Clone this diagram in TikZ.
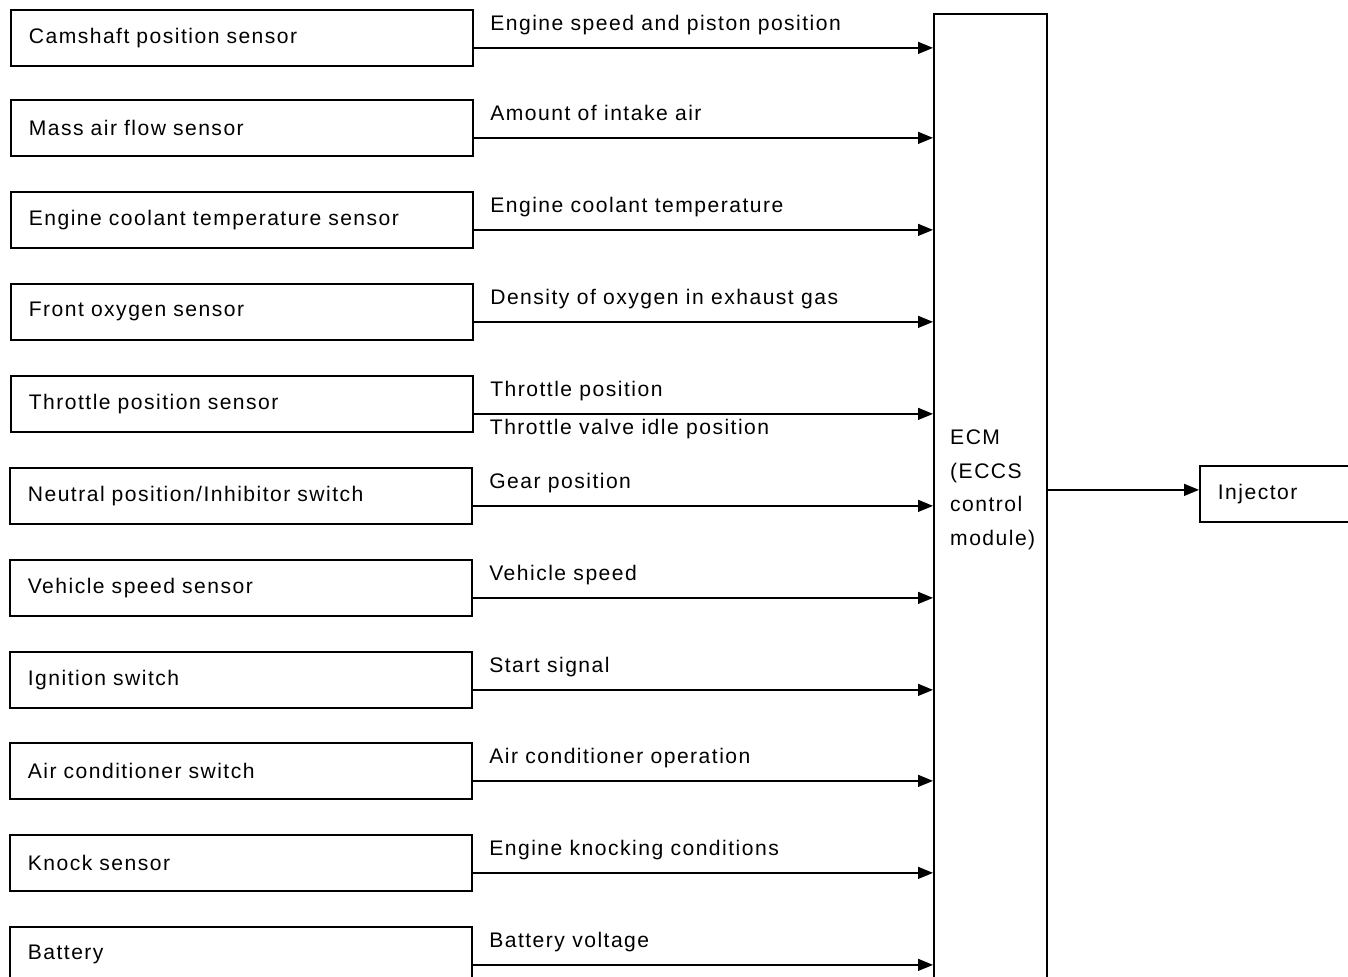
\documentclass[tikz,border=0pt]{standalone}
\usepackage{fontspec}
\setmainfont{Liberation Sans}[LetterSpace=7]
\usetikzlibrary{arrows.meta}
\tikzset{
  sensor/.style={draw, line width=1.5pt, anchor=north west, minimum height=1.68cm,
    text width=12.78cm, inner xsep=0.54cm, align=left},
  sig/.style={line width=1.1pt, -{Triangle[length=0.45cm,width=0.36cm]}},
  lab/.style={anchor=base west, xshift=0.36cm, yshift=0.51cm},
}
\begin{document}
\begin{tikzpicture}[x=0.03cm, y=-0.03cm, every node/.style={font=\fontsize{18}{28.5}\selectfont}]
        \path[use as bounding box] (0,0) rectangle (1348,976);
        \clip (0,0) rectangle (1348,976);

        % датчики
        \node[sensor] (cmp) at (10,9) {Camshaft position sensor};
        \node[sensor] (maf) at (10,99) {Mass air flow sensor};
        \node[sensor] (ect) at (10,191) {Engine coolant temperature sensor};
        \node[sensor] (ho2s) at (10,283) {Front oxygen sensor};
        \node[sensor] (tps) at (10,375) {Throttle position sensor};
        \node[sensor] (pnp) at (9,467) {Neutral position/Inhibitor switch};
        \node[sensor] (vss) at (9,559) {Vehicle speed sensor};
        \node[sensor] (ign) at (9,651) {Ignition switch};
        \node[sensor] (ac) at (9,742) {Air conditioner switch};
        \node[sensor] (ks) at (9,834) {Knock sensor};
        \node[sensor] (batt) at (9,926) {Battery};

        % блок управления
        \node[draw, line width=1.5pt, anchor=north west, minimum width=3.39cm, minimum height=29.61cm] (ecm) at (933,13) {};
        \node[sensor, text width=4.92cm] (inj) at (1199,465) {Injector};
        \node[anchor=west, align=left, inner sep=0pt] (ecmtxt) at ([xshift=0.51cm, yshift=0.12cm]ecm.west |- inj.west) {ECM\\(ECCS\\control\\module)};

        % выходы датчиков
        \coordinate (cmp-o) at ([yshift=-0.3cm]cmp.east);
        \coordinate (maf-o) at ([yshift=-0.3cm]maf.east);
        \coordinate (ect-o) at ([yshift=-0.3cm]ect.east);
        \coordinate (ho2s-o) at ([yshift=-0.3cm]ho2s.east);
        \coordinate (tps-o) at ([yshift=-0.3cm]tps.east);
        \coordinate (pnp-o) at ([yshift=-0.3cm]pnp.east);
        \coordinate (vss-o) at ([yshift=-0.3cm]vss.east);
        \coordinate (ign-o) at ([yshift=-0.3cm]ign.east);
        \coordinate (ac-o) at ([yshift=-0.3cm]ac.east);
        \coordinate (ks-o) at ([yshift=-0.3cm]ks.east);
        \coordinate (batt-o) at ([yshift=-0.3cm]batt.east);

        % сигналы
        \draw[sig] (cmp-o) node[lab] {Engine speed and piston position} -- (cmp-o -| ecm.west);
        \draw[sig] (maf-o) node[lab] {Amount of intake air} -- (maf-o -| ecm.west);
        \draw[sig] (ect-o) node[lab] {Engine coolant temperature} -- (ect-o -| ecm.west);
        \draw[sig] (ho2s-o) node[lab] {Density of oxygen in exhaust gas} -- (ho2s-o -| ecm.west);
        \draw[sig] (tps-o) node[lab] {Throttle position} -- (tps-o -| ecm.west);
        \node[anchor=base west, xshift=0.36cm, yshift=-0.63cm] (tvi) at (tps-o) {Throttle valve idle position};
        \draw[sig] (pnp-o) node[lab] {Gear position} -- (pnp-o -| ecm.west);
        \draw[sig] (vss-o) node[lab] {Vehicle speed} -- (vss-o -| ecm.west);
        \draw[sig] (ign-o) node[lab] {Start signal} -- (ign-o -| ecm.west);
        \draw[sig] (ac-o) node[lab] {Air conditioner operation} -- (ac-o -| ecm.west);
        \draw[sig] (ks-o) node[lab] {Engine knocking conditions} -- (ks-o -| ecm.west);
        \draw[sig] (batt-o) node[lab] {Battery voltage} -- (batt-o -| ecm.west);

        % выход на форсунку
        \coordinate (inj-i) at ([yshift=0.12cm]inj.west);
        \draw[sig] (inj-i -| ecm.east) -- (inj-i);
\end{tikzpicture}
\end{document}
